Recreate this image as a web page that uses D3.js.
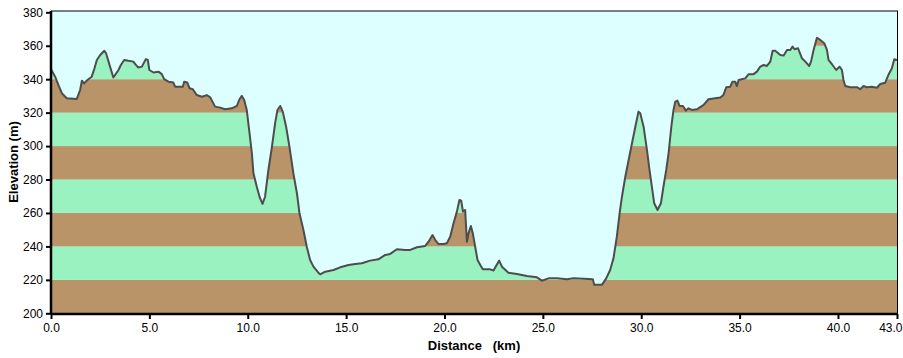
<!DOCTYPE html>
<html><head><meta charset="utf-8">
<script src="https://cdn.jsdelivr.net/npm/d3@7"></script>
<style>
html,body{margin:0;padding:0;background:#fff;}
svg{display:block;}
text{font-family:"Liberation Sans",Arial,sans-serif;}
</style></head><body>
<svg id="c" width="903" height="358"></svg>
<script>
const distKm = [0.0,0.21,0.38,0.55,0.80,1.31,1.48,1.57,1.68,1.85,2.07,2.21,2.33,2.50,2.71,2.80,3.00,3.17,3.43,3.55,3.72,3.93,4.19,4.28,4.44,4.62,4.82,4.92,5.00,5.21,5.46,5.63,5.75,5.97,6.22,6.31,6.70,6.77,6.93,7.04,7.21,7.41,7.67,7.92,8.09,8.34,8.60,8.85,9.19,9.45,9.58,9.70,9.82,9.95,10.09,10.21,10.29,10.46,10.60,10.75,10.88,11.05,11.23,11.39,11.51,11.65,11.78,11.95,12.12,12.32,12.50,12.63,12.83,13.00,13.17,13.34,13.59,13.68,13.94,14.36,14.70,15.12,15.46,15.80,16.22,16.64,16.99,17.24,17.58,18.00,18.26,18.60,19.02,19.19,19.39,19.53,19.70,19.95,20.12,20.29,20.46,20.63,20.76,20.85,20.94,21.05,21.14,21.22,21.34,21.44,21.56,21.68,21.82,21.95,22.32,22.49,22.78,22.92,23.25,23.68,24.19,24.70,24.95,25.29,25.71,26.22,26.56,27.07,27.54,27.61,28.00,28.22,28.42,28.59,28.76,28.90,29.02,29.19,29.36,29.53,29.70,29.86,29.95,30.12,30.29,30.42,30.54,30.66,30.83,31.00,31.13,31.27,31.39,31.53,31.64,31.73,31.84,31.95,32.12,32.27,32.40,32.58,32.83,33.17,33.42,34.02,34.18,34.32,34.52,34.64,34.78,34.86,34.95,35.29,35.46,35.71,35.88,36.05,36.22,36.39,36.56,36.68,36.81,37.07,37.24,37.41,37.58,37.69,37.79,37.97,38.17,38.34,38.54,38.63,38.76,38.93,39.10,39.30,39.44,39.52,39.72,39.91,40.08,40.20,40.28,40.37,40.62,40.97,41.13,41.30,41.47,41.72,41.98,42.15,42.40,42.56,42.74,42.86,43.00];
const elevM = [346,341.5,336.5,331.6,328.6,328.2,333.5,339.1,337.5,339.5,341.5,346.5,351.5,354.5,357,355.5,347.5,341,345.5,348.5,351.5,351,350.5,349,347,347.5,352,351.5,345.5,344,344.5,343,340,338.5,338,335.5,335.5,338.5,338,334.6,334,330.5,329.5,330.5,329.2,323.6,323,322,322.6,324,328,330,327.6,321.6,307.7,295.7,283.7,275.7,269.7,265.4,269.7,285.7,299.6,313.6,321.6,324,320.6,311.6,299.6,283.7,271.8,259.8,249.8,239.8,231.9,227.9,224.3,223.3,224.9,225.9,227.5,228.9,229.5,229.9,231.5,232.3,234.9,235.5,238.3,237.9,237.9,239.5,240.3,242.8,246.8,243.8,241.4,241.4,241.9,245.8,253.8,260.8,267.8,267.3,260.8,261.8,242.8,247.8,252.2,247.8,239.8,231.9,228.9,226.3,226.3,225.6,231.5,227.9,224.3,223.5,222.3,221.5,219.5,220.9,220.9,220.3,220.9,220.7,220.3,217,217,220.9,225.9,232.9,245.8,259.8,269.7,281.7,291.7,301.7,311.6,320.6,319.6,311.6,297.7,285.7,275.7,265.8,261.8,265.8,275.7,285.7,295.7,311.6,321.6,326.6,327.2,324,324,321.2,322.6,321.6,322,324.6,328,329,330.6,335.2,335.5,338.5,338.5,335.9,339.5,340.5,343,343,344.5,347.5,348.5,347.9,350.5,357,357,354.5,354.1,357.5,357.5,359.5,357.9,358.5,352.5,350.5,347.9,350.5,357.5,364.8,363.5,361.5,357.5,351.5,348.5,345.5,347.5,345.5,339.5,335.9,335.2,335.2,334,335.9,335.2,335.5,334.9,337.1,337.9,342.5,346.5,351.9,351.5];
const xTicks = [0,5,10,15,20,25,30,35,40,43];
const yTicks = [200,220,240,260,280,300,320,340,360,380];
const bandColors = ["#b99469","#9af2c0"];

const svg = d3.select("#c");
const x = d3.scaleLinear().domain([0,43]).range([51,897]);
const y = d3.scaleLinear().domain([200,380]).range([313.3,12.3]);
const data = distKm.map((d,i)=>({d, e: elevM[i]}));

// background
svg.append("rect").attr("x",51).attr("y",11).attr("width",846).attr("height",302).attr("fill","#ddffff");

// clip by area
const area = d3.area().x(p=>x(p.d)).y0(y(200)).y1(p=>y(p.e));
svg.append("clipPath").attr("id","clipA").append("path").attr("d",area(data));
const bands = svg.append("g").attr("clip-path","url(#clipA)");
for (let i=0;i<yTicks.length-1;i++){
  bands.append("rect").attr("x",51).attr("width",846)
    .attr("y",y(yTicks[i+1])).attr("height",y(yTicks[i])-y(yTicks[i+1]))
    .attr("fill",bandColors[i%2]);
}
// profile line
svg.append("path").attr("d",d3.line().x(p=>x(p.d)).y(p=>y(p.e))(data))
  .attr("fill","none").attr("stroke","#4d4d4d").attr("stroke-width",2).attr("stroke-linejoin","round");

// frame
svg.append("line").attr("x1",51).attr("x2",898).attr("y1",11).attr("y2",11).attr("stroke","#000").attr("stroke-width",1);
svg.append("line").attr("x1",897.5).attr("x2",897.5).attr("y1",11).attr("y2",314).attr("stroke","#000").attr("stroke-width",1);

// axes
const yAxis = svg.append("g").attr("transform","translate(51,0)")
  .call(d3.axisLeft(y).tickValues(yTicks).tickFormat(d3.format("d")).tickSize(5).tickPadding(3));
const xAxis = svg.append("g").attr("transform","translate(0,314)")
  .call(d3.axisBottom(x).tickValues(xTicks).tickFormat(d3.format(".1f")).tickSize(5).tickPadding(4));
[yAxis,xAxis].forEach(g=>{
  g.select(".domain").attr("stroke","#000").attr("stroke-width",2.5);
  g.selectAll(".tick line").attr("stroke","#000").attr("stroke-width",2);
  g.selectAll("text").attr("font-size",12).attr("fill","#000").attr("font-family","Liberation Sans, Arial, sans-serif");
});
yAxis.select(".domain").attr("d","M0,313.3V11");
xAxis.select(".domain").attr("d","M51,0H897");
xAxis.selectAll(".tick text").filter(d=>d===43).attr("text-anchor","end").attr("dx",5);

// titles
svg.append("text").attr("x",474).attr("y",350).attr("text-anchor","middle")
  .attr("font-size",13).attr("font-weight","bold").style("white-space","pre").text("Distance   (km)");
svg.append("text").attr("transform","translate(18,162) rotate(-90)").attr("text-anchor","middle")
  .attr("font-size",13).attr("font-weight","bold").text("Elevation (m)");
</script>
</body></html>
